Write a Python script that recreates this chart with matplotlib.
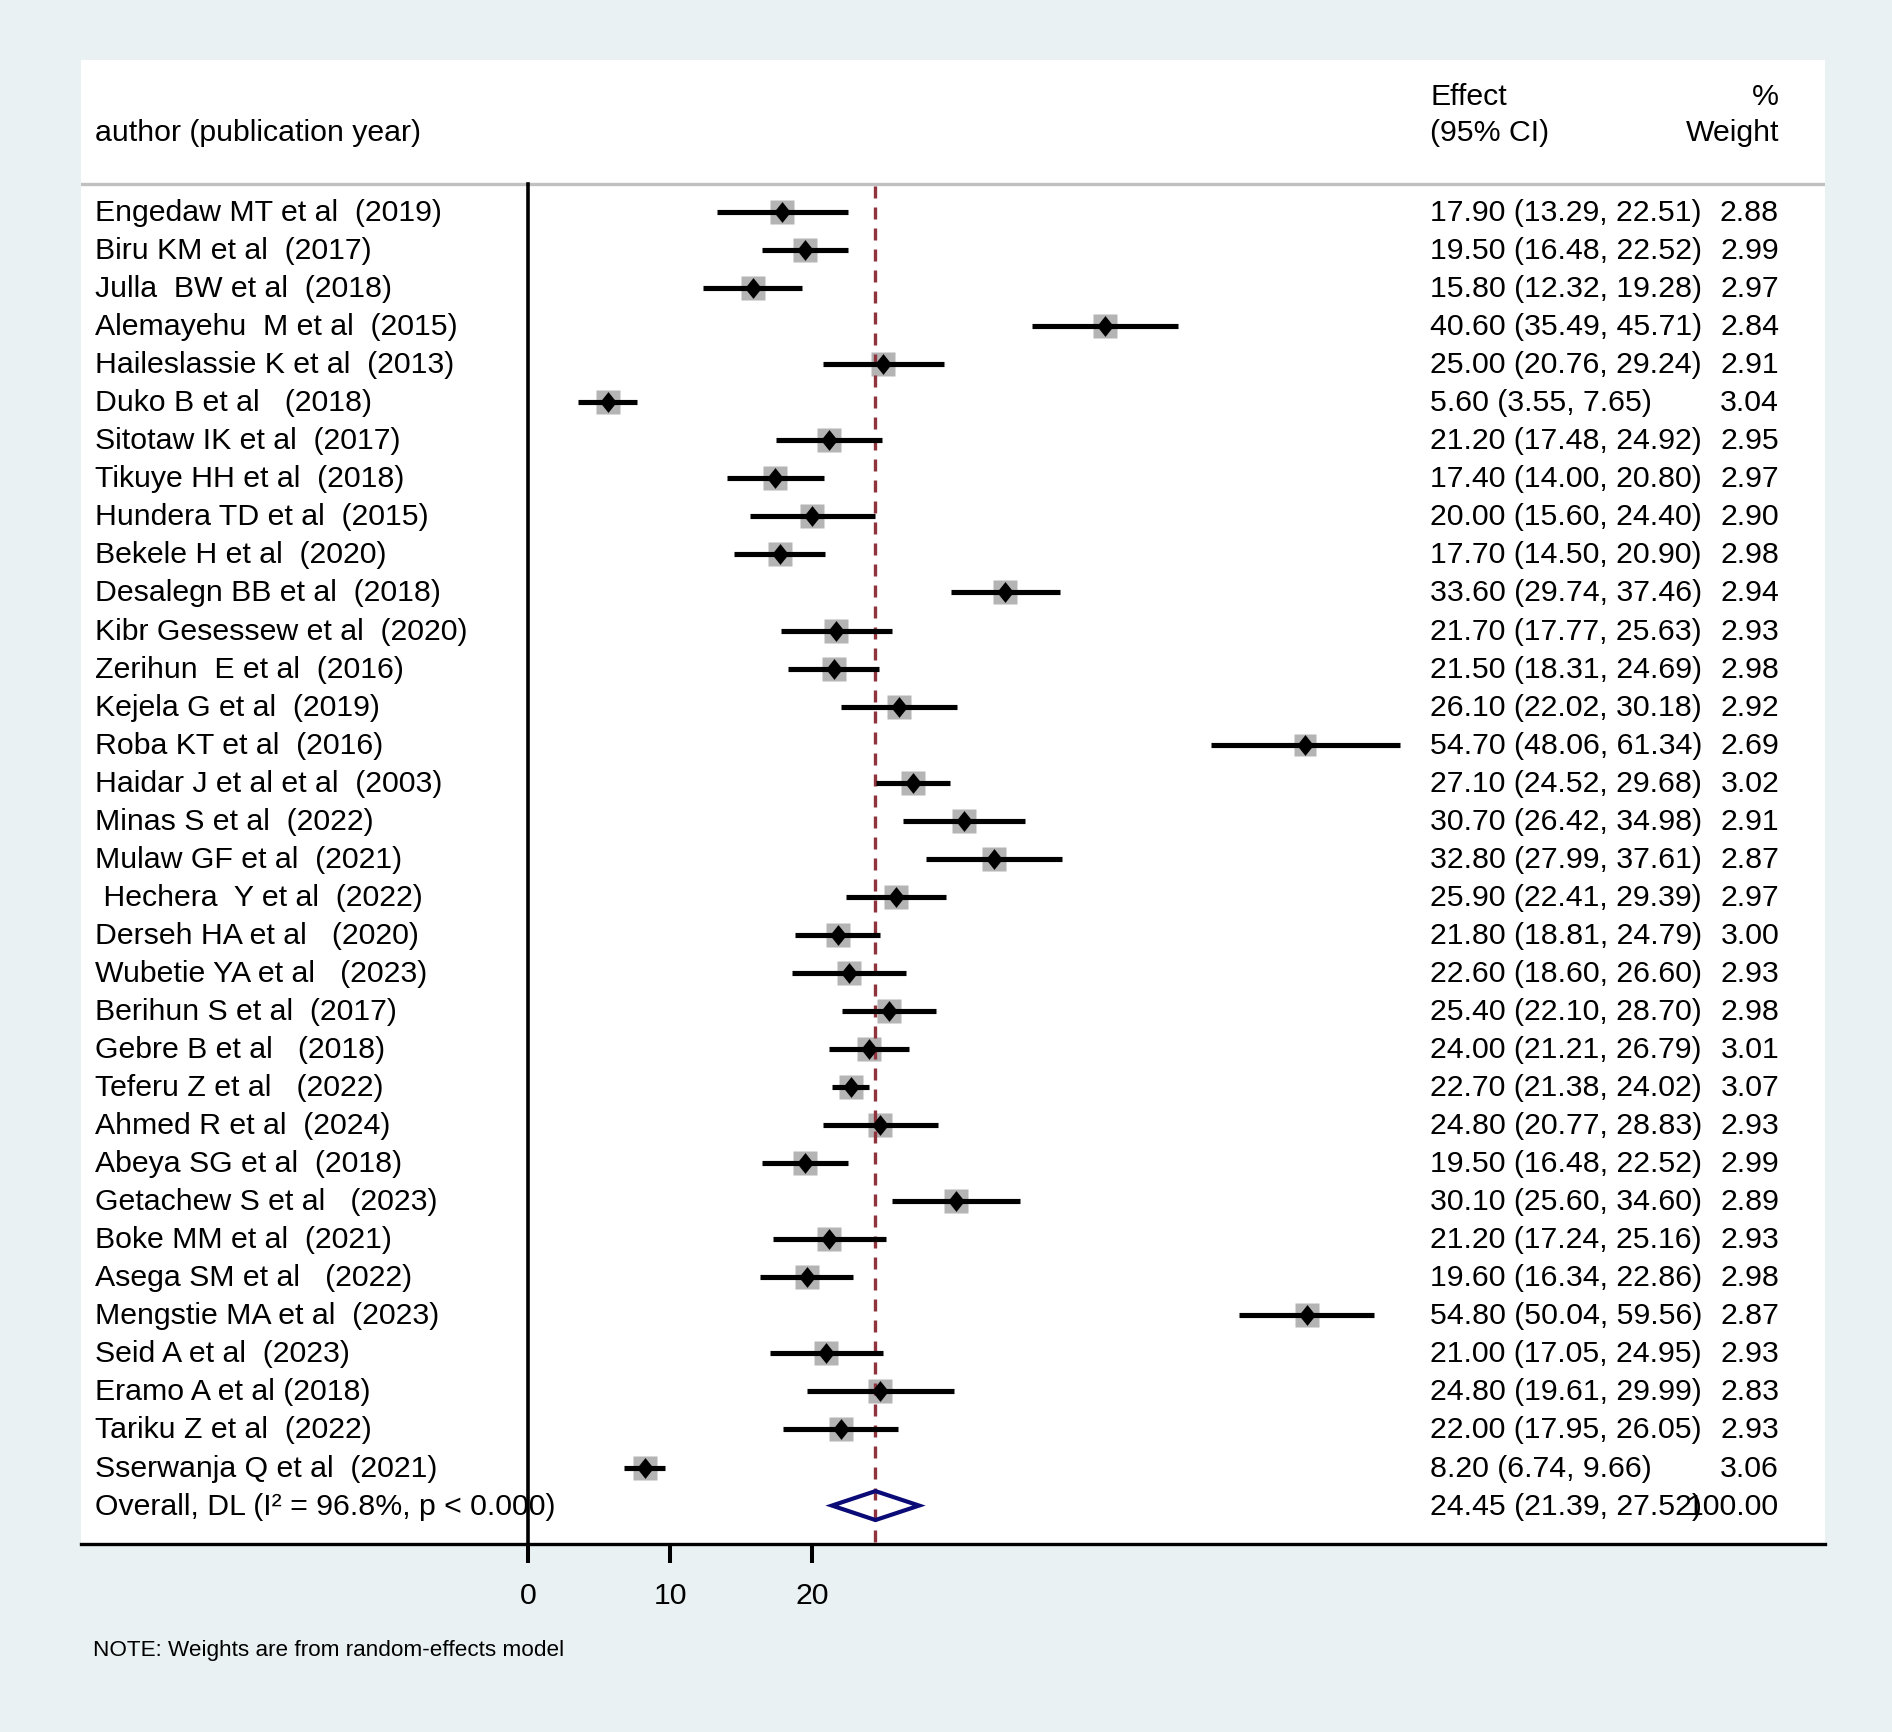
import matplotlib
matplotlib.use("Agg")
import matplotlib.pyplot as plt
import numpy as np

plt.rcParams['font.family'] = ['Liberation Sans', 'DejaVu Sans']

# study data
authors = [
    "Engedaw MT et al  (2019)", "Biru KM et al  (2017)", "Julla  BW et al  (2018)",
    "Alemayehu  M et al  (2015)", "Haileslassie K et al  (2013)", "Duko B et al   (2018)",
    "Sitotaw IK et al  (2017)", "Tikuye HH et al  (2018)", "Hundera TD et al  (2015)",
    "Bekele H et al  (2020)", "Desalegn BB et al  (2018)", "Kibr Gesessew et al  (2020)",
    "Zerihun  E et al  (2016)", "Kejela G et al  (2019)", "Roba KT et al  (2016)",
    "Haidar J et al et al  (2003)", "Minas S et al  (2022)", "Mulaw GF et al  (2021)",
    " Hechera  Y et al  (2022)", "Derseh HA et al   (2020)", "Wubetie YA et al   (2023)",
    "Berihun S et al  (2017)", "Gebre B et al   (2018)", "Teferu Z et al   (2022)",
    "Ahmed R et al  (2024)", "Abeya SG et al  (2018)", "Getachew S et al   (2023)",
    "Boke MM et al  (2021)", "Asega SM et al   (2022)", "Mengstie MA et al  (2023)",
    "Seid A et al  (2023)", "Eramo A et al (2018)", "Tariku Z et al  (2022)",
    "Sserwanja Q et al  (2021)",
]
effect = [17.90, 19.50, 15.80, 40.60, 25.00, 5.60, 21.20, 17.40, 20.00, 17.70,
          33.60, 21.70, 21.50, 26.10, 54.70, 27.10, 30.70, 32.80, 25.90, 21.80,
          22.60, 25.40, 24.00, 22.70, 24.80, 19.50, 30.10, 21.20, 19.60, 54.80,
          21.00, 24.80, 22.00, 8.20]
lower = [13.29, 16.48, 12.32, 35.49, 20.76, 3.55, 17.48, 14.00, 15.60, 14.50,
         29.74, 17.77, 18.31, 22.02, 48.06, 24.52, 26.42, 27.99, 22.41, 18.81,
         18.60, 22.10, 21.21, 21.38, 20.77, 16.48, 25.60, 17.24, 16.34, 50.04,
         17.05, 19.61, 17.95, 6.74]
upper = [22.51, 22.52, 19.28, 45.71, 29.24, 7.65, 24.92, 20.80, 24.40, 20.90,
         37.46, 25.63, 24.69, 30.18, 61.34, 29.68, 34.98, 37.61, 29.39, 24.79,
         26.60, 28.70, 26.79, 24.02, 28.83, 22.52, 34.60, 25.16, 22.86, 59.56,
         24.95, 29.99, 26.05, 9.66]
weight = [2.88, 2.99, 2.97, 2.84, 2.91, 3.04, 2.95, 2.97, 2.90, 2.98,
          2.94, 2.93, 2.98, 2.92, 2.69, 3.02, 2.91, 2.87, 2.97, 3.00,
          2.93, 2.98, 3.01, 3.07, 2.93, 2.99, 2.89, 2.93, 2.98, 2.87,
          2.93, 2.83, 2.93, 3.06]

overall_label = "Overall, DL (I\u00b2 = 96.8%, p < 0.000)"
overall_est, overall_lo, overall_hi, overall_w = 24.45, 21.39, 27.52, 100.00
xticks = [0, 10, 20]

BG = "#e9f1f3"
SQ = "#b4b4b4"
NAVY = "#0b0b78"
MAROON = "#8f343c"
FS = 21.8

W, H = 1892, 1733
fig = plt.figure(figsize=(W / 100, H / 100), dpi=100, facecolor=BG)
# white plot panel (pixel box 81..1825 x 61..1545)
ax = fig.add_axes([81 / W, 1 - 1545 / H, (1825 - 81) / W, (1545 - 61) / H])
ax.set_facecolor("white")

n = len(authors)
rows = np.arange(n)
ax.set_xlim(-31.46, (1825 - 528) / 14.21)
ax.set_ylim(35.01, -3.995)

# header
ax.text(-30.47, -2.1, "author (publication year)", fontsize=FS, va="center", ha="left")
ax.text(63.5, -3.05, "Effect", fontsize=FS, va="center", ha="left")
ax.text(63.5, -2.1, "(95% CI)", fontsize=FS, va="center", ha="left")
ax.text(88.04, -3.05, "%", fontsize=FS, va="center", ha="right")
ax.text(88.04, -2.1, "Weight", fontsize=FS, va="center", ha="right")
ax.axhline(-0.74, color="#c0c0c0", lw=2.4, zorder=1)

# null line and pooled estimate line
ax.plot([0, 0], [-0.74, 35.01], color="black", lw=2.6, zorder=2, clip_on=False)
ax.plot([overall_est, overall_est], [-0.68, 35.0], color=MAROON, lw=2.4,
        linestyle=(0, (3.6, 2.7)), zorder=3)

diamond = [(0, 1), (0.8, 0), (0, -1), (-0.8, 0), (0, 1)]
for i in range(n):
    ms = 17 * np.sqrt(weight[i] / 2.95)
    ax.plot(effect[i], rows[i], marker="s", ms=ms, color=SQ, mec="none", zorder=2.5)
    ax.plot([lower[i], upper[i]], [rows[i], rows[i]], color="black", lw=3.7,
            solid_capstyle="butt", zorder=4)
    ax.plot(effect[i], rows[i], marker=diamond, ms=15, color="black", mec="none", zorder=5)
    ax.text(-30.47, rows[i], authors[i], fontsize=FS, va="center", ha="left")
    ax.text(63.5, rows[i], f"{effect[i]:.2f} ({lower[i]:.2f}, {upper[i]:.2f})",
            fontsize=FS, va="center", ha="left")
    ax.text(88.04, rows[i], f"{weight[i]:.2f}", fontsize=FS, va="center", ha="right")

# overall
yo = n
ax.fill([overall_lo, overall_est, overall_hi, overall_est, overall_lo],
        [yo, yo - 0.38, yo, yo + 0.38, yo], facecolor="none", edgecolor=NAVY,
        lw=3.0, zorder=5, joinstyle="miter")
ax.text(-30.47, yo, overall_label, fontsize=FS, va="center", ha="left")
ax.text(63.5, yo, f"{overall_est:.2f} ({overall_lo:.2f}, {overall_hi:.2f})",
        fontsize=FS, va="center", ha="left")
ax.text(88.04, yo, f"{overall_w:.2f}", fontsize=FS, va="center", ha="right")

# axes styling
for side in ["top", "left", "right"]:
    ax.spines[side].set_visible(False)
ax.spines["bottom"].set_linewidth(2.4)
ax.set_yticks([])
ax.set_xticks(xticks)
ax.set_xticklabels([str(t) for t in xticks])
ax.tick_params(axis="x", length=14, width=2.9, pad=13, labelsize=FS)

fig.text(93 / W, 1 - 1651 / H, "NOTE: Weights are from random-effects model",
         fontsize=16.2, va="center", ha="left")

fig.savefig("out.png", dpi=100, facecolor=BG)
